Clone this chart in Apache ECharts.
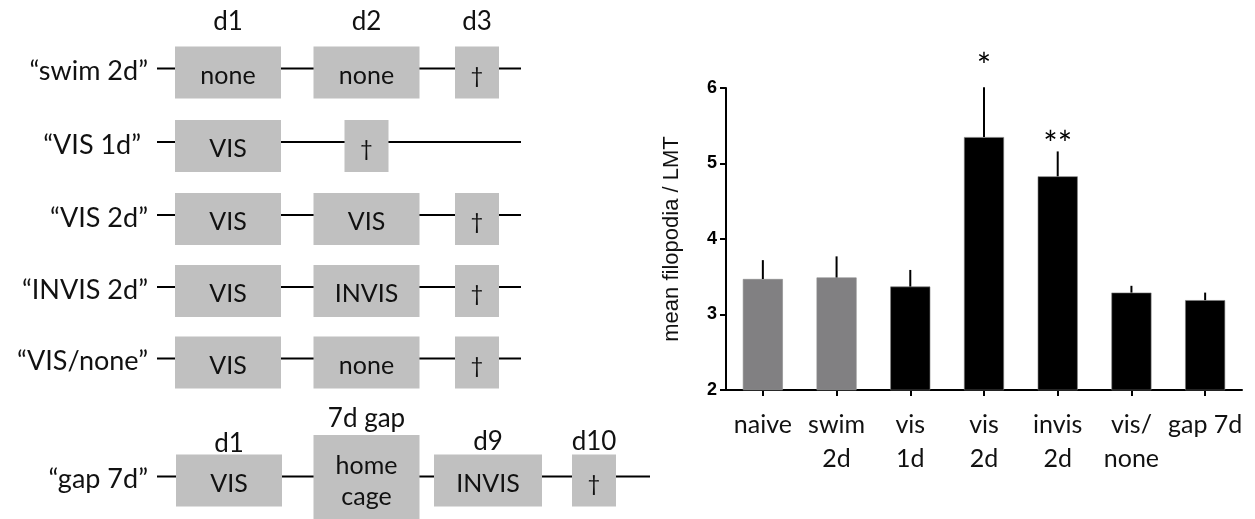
<!DOCTYPE html>
<html>
<head>
<meta charset="utf-8">
<script src="https://cdn.jsdelivr.net/npm/echarts@6/dist/echarts.min.js"></script>
<style>
html,body{margin:0;padding:0;background:#fff;}
#chart{width:1255px;height:519px;}
</style>
</head>
<body>
<div id="chart"></div>
<script>
// ---------------- DATA ----------------
// Bar chart (right panel)
const categories = ['naive', 'swim\n2d', 'vis\n1d', 'vis\n2d', 'invis\n2d', 'vis/\nnone', 'gap 7d'];
const meanValues = [3.47, 3.49, 3.37, 5.35, 4.83, 3.29, 3.19];
const errorUpper = [3.72, 3.77, 3.59, 6.01, 5.16, 3.38, 3.29];
const sigLabels = ['', '', '', '*', '**', '', ''];
const sigLevels = [null, null, null, 6.28, 5.24, null, null];
const barGroups = ['control', 'control', 'trained', 'trained', 'trained', 'trained', 'trained'];
const yAxisName = 'mean filopodia / LMT';
const yMin = 2, yMax = 6, yStep = 1;

// Protocol schematic (left panel)
const protocolNames = ['\u201cswim 2d\u201d', '\u201cVIS 1d\u201d ', '\u201cVIS 2d\u201d', '\u201cINVIS 2d\u201d', '\u201cVIS/none\u201d', '\u201cgap 7d\u201d'];
const protocolSteps = [
  ['none', 'none', '\u2020'],
  ['VIS', '\u2020'],
  ['VIS', 'VIS', '\u2020'],
  ['VIS', 'INVIS', '\u2020'],
  ['VIS', 'none', '\u2020'],
  ['VIS', 'home\ncage', 'INVIS', '\u2020']
];
const dayHeadersTop = ['d1', 'd2', 'd3'];
const dayHeadersGap = ['d1', '7d gap', 'd9', 'd10'];

// ---------------- LAYOUT (schematic, pixel space) ----------------
const L = {
  rowY: [72.5, 146, 219, 291, 362.5, 480.5],
  slotsStd: [228, 366.5, 477],
  slotsGap: [229, 366.5, 488, 594],
  wideW: 106, narrowW: 44, boxH: 52,
  homeCage: {top: 435, bottom: 522},
  lineStart: 157, lineEndStd: 521, lineEndGap: 650, lineDy: -4,
  labelRight: 148,
  headTopY: 22, headGapY: [444, 419, 442, 442]
};

const FONT = 'Lato';
const BOX_COLOR = '#c0c0c0';

// Build schematic items
const boxItems = [];
protocolSteps.forEach((steps, r) => {
  const slots = (r === 5) ? L.slotsGap : L.slotsStd;
  steps.forEach((t, i) => {
    const narrow = t === '\u2020';
    let cy = L.rowY[r], h = L.boxH;
    if (t === 'home\ncage') { cy = (L.homeCage.top + L.homeCage.bottom) / 2; h = L.homeCage.bottom - L.homeCage.top; }
    boxItems.push({x: slots[i], y: cy, w: narrow ? L.narrowW : (t === 'INVIS' && r === 5 ? 108 : L.wideW), h: h, text: t, narrow: narrow});
  });
});
const lineItems = protocolSteps.map((s, r) => ({x1: L.lineStart, x2: r === 5 ? L.lineEndGap : L.lineEndStd, y: L.rowY[r] + L.lineDy}));
const textItems = [];
protocolNames.forEach((n, r) => textItems.push({x: L.labelRight, y: L.rowY[r] - 1, text: n, align: 'right', size: 27}));
dayHeadersTop.forEach((d, i) => textItems.push({x: L.slotsStd[i], y: L.headTopY, text: d, align: 'center', size: 26}));
dayHeadersGap.forEach((d, i) => textItems.push({x: L.slotsGap[i], y: L.headGapY[i], text: d, align: 'center', size: 26}));

const chart = echarts.init(document.getElementById('chart'), null, {renderer: 'canvas'});

const option = {
  animation: false,
  backgroundColor: '#ffffff',
  grid: [
    {left: 726, right: 13, top: 88, bottom: 129, containLabel: false},
    {left: 0, top: 0, width: 660, height: 519, containLabel: false}
  ],
  xAxis: [
    {
      type: 'category', gridIndex: 0, data: categories,
      axisLine: {lineStyle: {color: '#000', width: 2}},
      axisTick: {show: true, alignWithLabel: true, length: 6, lineStyle: {color: '#000', width: 2}},
      axisLabel: {color: '#111', fontFamily: FONT, fontSize: 25, lineHeight: 34, margin: 18, interval: 0}
    },
    {type: 'value', gridIndex: 1, min: 0, max: 660, show: false}
  ],
  yAxis: [
    {
      type: 'value', gridIndex: 0, min: yMin, max: yMax, interval: yStep,
      name: yAxisName, nameLocation: 'middle', nameGap: 43, nameRotate: 90,
      nameTextStyle: {fontFamily: 'Liberation Sans', fontSize: 22, color: '#111'},
      axisLine: {show: true, lineStyle: {color: '#000', width: 2}},
      axisTick: {show: true, length: 6, lineStyle: {color: '#000', width: 2}},
      axisLabel: {fontFamily: 'Liberation Sans', fontWeight: 'bold', fontSize: 18, color: '#000', margin: 9},
      splitLine: {show: false}
    },
    {type: 'value', gridIndex: 1, min: 0, max: 519, inverse: true, show: false}
  ],
  series: [
    {
      type: 'bar', xAxisIndex: 0, yAxisIndex: 0, barWidth: 40,
      data: meanValues.map((v, i) => ({
        value: v,
        itemStyle: {color: barGroups[i] === 'control' ? '#818082' : '#000000', borderColor: barGroups[i] === 'control' ? '#8c8c8c' : '#7a7a7a', borderWidth: 0.6}
      })),
      z: 2
    },
    {
      type: 'custom', xAxisIndex: 0, yAxisIndex: 0, z: 3,
      data: meanValues.map((v, i) => [i, v, errorUpper[i]]),
      renderItem: function (params, api) {
        const p0 = api.coord([api.value(0), api.value(1)]);
        const p1 = api.coord([api.value(0), api.value(2)]);
        return {type: 'line', shape: {x1: p0[0], y1: p0[1], x2: p1[0], y2: p1[1]}, style: {stroke: '#000', lineWidth: 2}};
      }
    },
    {
      type: 'custom', xAxisIndex: 0, yAxisIndex: 0, z: 4, clip: false,
      data: sigLevels.map((v, i) => [i, v == null ? 0 : v]),
      renderItem: function (params, api) {
        const t = sigLabels[params.dataIndex];
        if (!t) return null;
        const p = api.coord([api.value(0), api.value(1)]);
        return {type: 'text', x: p[0], y: p[1], style: {text: t, fontFamily: FONT, fontSize: 34, fill: '#000', align: 'center', verticalAlign: 'middle'}};
      }
    },
    // schematic lines
    {
      type: 'custom', xAxisIndex: 1, yAxisIndex: 1, z: 1, clip: false,
      data: lineItems.map(d => [d.x1, d.y, d.x2]),
      renderItem: function (params, api) {
        const a = api.coord([api.value(0), api.value(1)]);
        const b = api.coord([api.value(2), api.value(1)]);
        return {type: 'line', shape: {x1: a[0], y1: a[1], x2: b[0], y2: b[1]}, style: {stroke: '#000', lineWidth: 2}};
      }
    },
    // schematic boxes
    {
      type: 'custom', xAxisIndex: 1, yAxisIndex: 1, z: 2, clip: false,
      data: boxItems.map(d => [d.x, d.y, d.w, d.h]),
      renderItem: function (params, api) {
        const d = boxItems[params.dataIndex];
        const c = api.coord([api.value(0), api.value(1)]);
        const s = api.size([api.value(2), api.value(3)]);
        return {
          type: 'group',
          children: [
            {type: 'rect', shape: {x: c[0] - s[0] / 2, y: c[1] - s[1] / 2, width: s[0], height: s[1]}, style: {fill: BOX_COLOR}},
            {type: 'text', x: c[0], y: c[1] + 3, style: {text: d.text, fontFamily: FONT, fontSize: d.narrow ? 22 : 25, lineHeight: 31, fill: '#111', align: 'center', verticalAlign: 'middle'}}
          ]
        };
      }
    },
    // schematic texts
    {
      type: 'custom', xAxisIndex: 1, yAxisIndex: 1, z: 3, clip: false,
      data: textItems.map(d => [d.x, d.y]),
      renderItem: function (params, api) {
        const d = textItems[params.dataIndex];
        const c = api.coord([api.value(0), api.value(1)]);
        return {type: 'text', x: c[0], y: c[1], style: {text: d.text, fontFamily: FONT, fontSize: d.size, fill: '#111', align: d.align, verticalAlign: 'middle'}};
      }
    }
  ]
};
chart.setOption(option);
</script>
</body>
</html>
